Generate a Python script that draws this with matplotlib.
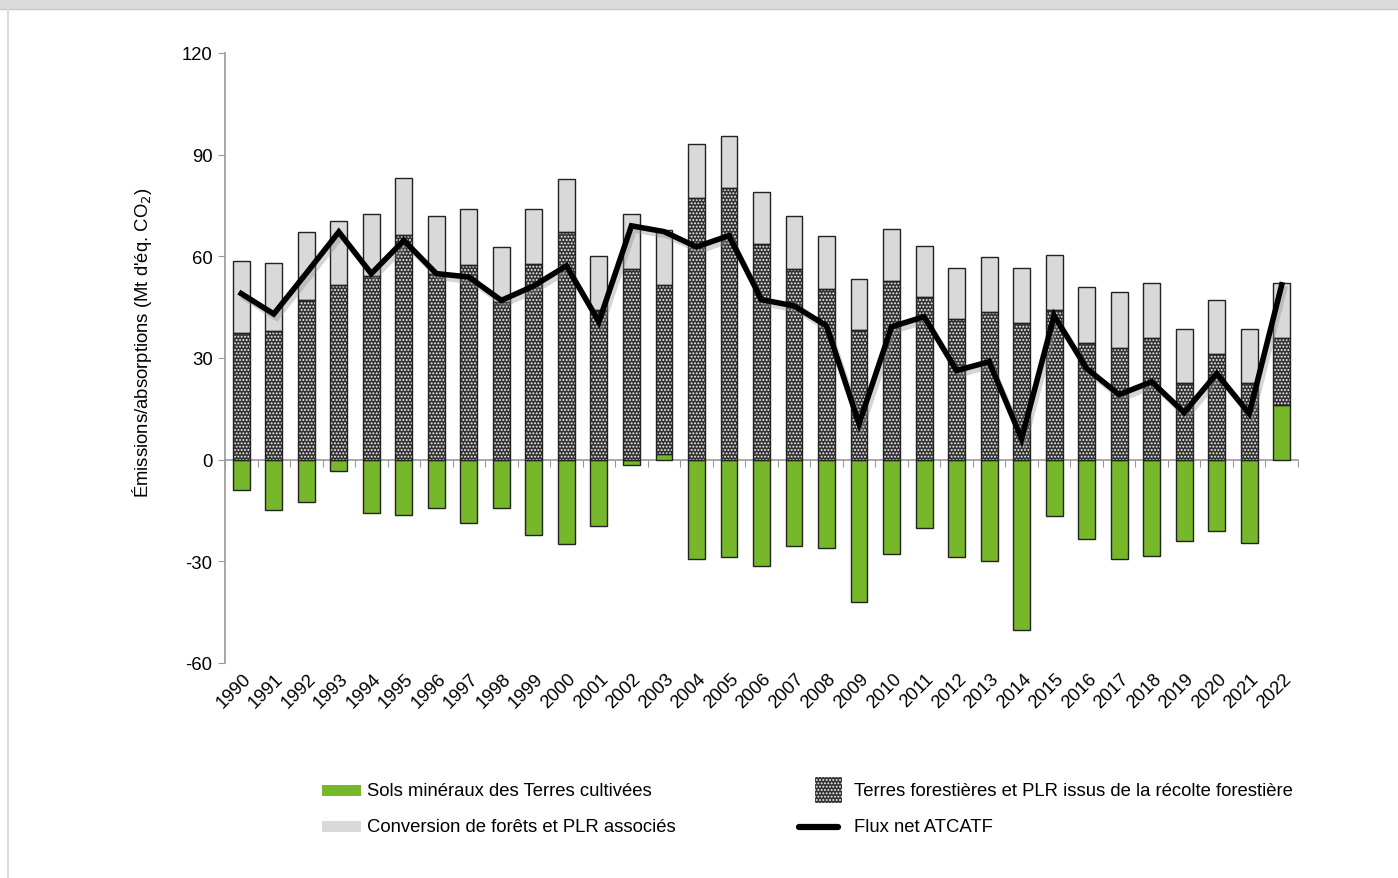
import matplotlib
matplotlib.use("Agg")
import matplotlib.pyplot as plt
import matplotlib.patheffects as pe
from matplotlib.patches import Rectangle
from matplotlib.lines import Line2D
import numpy as np

plt.rcParams['font.family'] = ['Liberation Sans', 'DejaVu Sans']
plt.rcParams['hatch.linewidth'] = 0.9

years = list(range(1990, 2023))
# Sols minéraux des Terres cultivées (Mt CO2e)
sols = [-8.9, -14.8, -12.4, -3.2, -15.6, -16.2, -14.2, -18.6, -14.2, -22.1,
        -24.8, -19.5, -1.5, 1.8, -29.2, -28.6, -31.3, -25.4, -26.0, -41.9,
        -27.7, -20.1, -28.6, -29.8, -50.2, -16.5, -23.3, -29.2, -28.3, -23.9,
        -21.0, -24.5, 16.0]
# Terres forestières et PLR issus de la récolte forestière (top of dotted segment)
forest_top = [37.5, 38.0, 47.2, 51.6, 54.3, 66.2, 54.9, 57.3, 46.5, 57.8,
              67.3, 44.3, 56.4, 51.6, 77.3, 80.3, 63.7, 56.4, 50.5, 38.4,
              52.8, 48.1, 41.6, 43.7, 40.4, 44.3, 34.5, 33.0, 36.0, 22.6,
              31.1, 22.6, 36.0]
# Conversion de forêts et PLR associés (top of grey segment = total positive)
total_top = [58.7, 58.1, 67.3, 70.4, 72.4, 83.1, 71.9, 73.9, 62.8, 74.1,
             82.9, 60.2, 72.6, 67.9, 93.2, 95.6, 79.1, 72.0, 66.1, 53.4,
             68.2, 63.1, 56.7, 59.9, 56.7, 60.5, 51.0, 49.6, 52.1, 38.5,
             47.2, 38.5, 52.1]
# Flux net ATCATF
flux = [49.0, 43.0, 55.0, 67.2, 54.9, 64.7, 54.9, 53.9, 47.0, 51.3,
        57.2, 40.7, 69.0, 67.3, 62.8, 66.1, 47.2, 45.4, 39.5, 10.6,
        39.2, 42.2, 26.3, 28.9, 6.2, 42.5, 26.9, 19.2, 23.0, 13.9,
        25.4, 13.6, 51.6]

labels = [str(y) for y in years]
yticks = [120, 90, 60, 30, 0, -30, -60]

sols = np.array(sols)
forest_top = np.array(forest_top)
total_top = np.array(total_top)
forest_bottom = np.maximum(sols, 0)
forest_h = forest_top - forest_bottom
conv_h = total_top - forest_top

FS = 13.3
W, H = 1398, 879
fig = plt.figure(figsize=(W / 100, H / 100), dpi=100)
fig.patch.set_facecolor('white')

# page frame
fig.add_artist(Rectangle((0, 1 - 10 / H), 1, 10 / H, transform=fig.transFigure,
                         facecolor='#d9dadc', edgecolor='none'))
fig.add_artist(Line2D([0, 1], [1 - 10 / H, 1 - 10 / H], transform=fig.transFigure,
                      color='#c8c8ca', lw=1))
fig.add_artist(Line2D([7.5 / W, 7.5 / W], [0, 1 - 10 / H], transform=fig.transFigure,
                      color='#dcdcdc', lw=1.5))

ax = fig.add_axes([225 / W, 1 - 664 / H, (1298 - 225) / W, (664 - 54) / H])
x = np.arange(len(years))
bw = 0.52
green = '#76b82a'
grey = '#d9d9d9'
dark = '#333333'
edge = '#222222'
HATCH = '.....'
HCOL = '#f4f4f4'

ax.bar(x, sols, bw, color=green, edgecolor=edge, lw=1, zorder=2)
ax.bar(x, forest_h, bw, bottom=forest_bottom, color=dark, edgecolor=HCOL,
       hatch=HATCH, lw=0, zorder=2)
ax.bar(x, forest_h, bw, bottom=forest_bottom, facecolor='none', edgecolor=edge,
       lw=1, zorder=2.1)
ax.bar(x, conv_h, bw, bottom=forest_top, color=grey, edgecolor=edge, lw=1, zorder=2)

ax.plot(x, flux, color='black', lw=4.0, solid_joinstyle='miter', zorder=4,
        path_effects=[pe.SimpleLineShadow(offset=(2, -3), shadow_color='#888888', alpha=0.35),
                      pe.Normal()])

ax.set_xlim(-0.5, len(years) - 0.5)
ax.set_ylim(-60, 120)
ax.set_yticks(yticks)
ax.set_yticklabels([str(v) for v in yticks])
ax.tick_params(axis='y', direction='out', length=5, color='#999999', labelsize=FS,
               pad=4)

for s in ['top', 'right', 'bottom']:
    ax.spines[s].set_visible(False)
ax.spines['left'].set_color('#999999')
ax.spines['left'].set_linewidth(1.2)

# category labels at bottom
ax.set_xticks(x)
ax.set_xticklabels(labels, rotation=45, ha='right', va='top', rotation_mode='default')
ax.tick_params(axis='x', length=0, labelsize=FS, pad=5)
for lab in ax.get_xticklabels():
    lab.set_transform(lab.get_transform() + matplotlib.transforms.ScaledTranslation(
        13 / 100, 0, fig.dpi_scale_trans))

# zero axis with boundary ticks
sec = ax.secondary_xaxis(1 / 3)
sec.set_xticks(np.arange(len(years) + 1) - 0.5)
sec.set_xticklabels([])
sec.tick_params(axis='x', direction='out', length=5, color='#999999')
sec.spines['bottom'].set_color('#999999')
sec.spines['bottom'].set_linewidth(1.2)
sec.set_zorder(1)

ax.set_ylabel(r"Émissions/absorptions (Mt d'éq. CO$_2$)", fontsize=FS)
ax.yaxis.set_label_coords(-0.066, 0.526)

# legend (manual)
def fx(px):
    return px / W

def fy(py):
    return 1 - py / H

fig.add_artist(Rectangle((fx(322), fy(797)), 39 / W, 11 / H, transform=fig.transFigure,
                         facecolor=green, edgecolor='none'))
fig.text(fx(367), fy(792), 'Sols minéraux des Terres cultivées', fontsize=FS, va='center')
fig.add_artist(Rectangle((fx(322), fy(833)), 39 / W, 11 / H, transform=fig.transFigure,
                         facecolor=grey, edgecolor='none'))
fig.text(fx(367), fy(828), 'Conversion de forêts et PLR associés', fontsize=FS, va='center')
fig.add_artist(Rectangle((fx(815), fy(804)), 27 / W, 26 / H, transform=fig.transFigure,
                         facecolor=dark, edgecolor=HCOL, hatch=HATCH, lw=0))
fig.text(fx(854), fy(792), 'Terres forestières et PLR issus de la récolte forestière',
         fontsize=FS, va='center')
fig.add_artist(Line2D([fx(799), fx(838)], [fy(828), fy(828)], transform=fig.transFigure,
                      color='black', lw=4.5, solid_capstyle='round'))
fig.text(fx(854), fy(828), 'Flux net ATCATF', fontsize=FS, va='center')

fig.savefig('out.png', dpi=100)
